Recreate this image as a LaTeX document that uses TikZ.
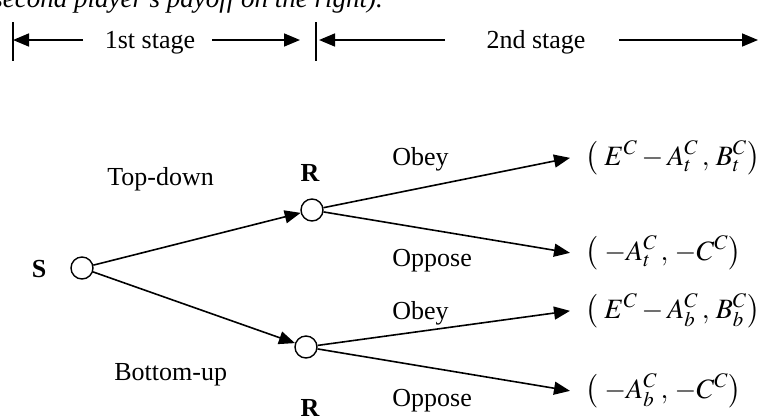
\documentclass[tikz,border=0pt]{standalone}
\usepackage{mathptmx}
\usepackage{fontspec}
\setmainfont{Liberation Serif}
\usetikzlibrary{arrows.meta}
\tikzset{
  treenode/.style = {circle, draw=black, line width=0.7pt, fill=white,
    minimum size=11pt, inner sep=0pt},% decision node
  lab/.style = {inner sep=0pt, font=\fontsize{13}{15}\selectfont},
  player/.style = {lab, font=\fontsize{13}{15}\selectfont\bfseries},
  payoff/.style = {lab, font=\fontsize{14}{16}\selectfont, inner xsep=7.5pt,
    anchor=base west},
  move/.style = {line width=0.8pt, -{Triangle[length=8pt,width=6.5pt]}},
  bar/.style = {line width=0.7pt}
}

\begin{document}
\begin{tikzpicture}[x=0.5pt, y=-0.5pt]
  \useasboundingbox (0,0) rectangle (758,418);
  % caption line, cut by the page edge
  \node [lab, anchor=base west, font=\fontsize{13.5}{15}\selectfont\itshape] (caption)
    at (-8,7) {second player's payoff on the right).};
  % stages
  \foreach \x in {13,316}
    \draw [bar] (\x,22) -- (\x,61);
  \node [lab, anchor=base] (st1) at (150,48) {1st stage};
  \node [lab, anchor=base] (st2) at (536,48) {2nd stage};
  \coordinate (st1l) at (83,40);  \coordinate (st1le) at (13,40);
  \coordinate (st1r) at (212,40); \coordinate (st1re) at (300,40);
  \coordinate (st2l) at (445,40); \coordinate (st2le) at (319,40);
  \coordinate (st2r) at (619,40); \coordinate (st2re) at (758,40);
  \draw [move] (st1l) -- (st1le);
  \draw [move] (st1r) -- (st1re);
  \draw [move] (st2l) -- (st2le);
  \draw [move] (st2r) -- (st2re);
  % players
  \node [treenode] (S) at (82,268) {};
  \node [treenode] (Rt) at (312,210) {};
  \node [treenode] (Rb) at (306,347) {};
  \node [player] (lS) at (39,269) {S};
  \node [player] (lRt) at (310,173) {R};
  \node [player] (lRb) at (310,408) {R};
  % first stage moves
  \node [lab, anchor=base west] (topdown) at (107,185) {Top-down};
  \node [lab, anchor=base west] (bottomup) at (114,380) {Bottom-up};
  \draw [move] (S) -- (Rt);
  \draw [move] (S) -- (Rb);
  % payoffs
  \node [payoff] (pay1) at (570,165) {$\bigl(\;E^C - A_t^C\,,\,B_t^C\bigr)$};
  \node [payoff] (pay2) at (570,260) {$\bigl(\;-A_t^C\,,\,-C^C\bigr)$};
  \node [payoff] (pay3) at (570,318) {$\bigl(\;E^C - A_b^C\,,\,B_b^C\bigr)$};
  \node [payoff] (pay4) at (570,398) {$\bigl(\;-A_b^C\,,\,-C^C\bigr)$};
  % second stage moves
  \node [lab, anchor=base west] (obeyt) at (392,165) {Obey};
  \node [lab, anchor=base west] (opposet) at (392,266) {Oppose};
  \node [lab, anchor=base west] (obeyb) at (392,319) {Obey};
  \node [lab, anchor=base west] (opposeb) at (392,406) {Oppose};
  \draw [move] (Rt) -- (pay1.west);
  \draw [move] (Rt) -- (pay2.west);
  \draw [move] (Rb) -- (pay3.west);
  \draw [move] (Rb) -- (pay4.west);
\end{tikzpicture}
\end{document}
